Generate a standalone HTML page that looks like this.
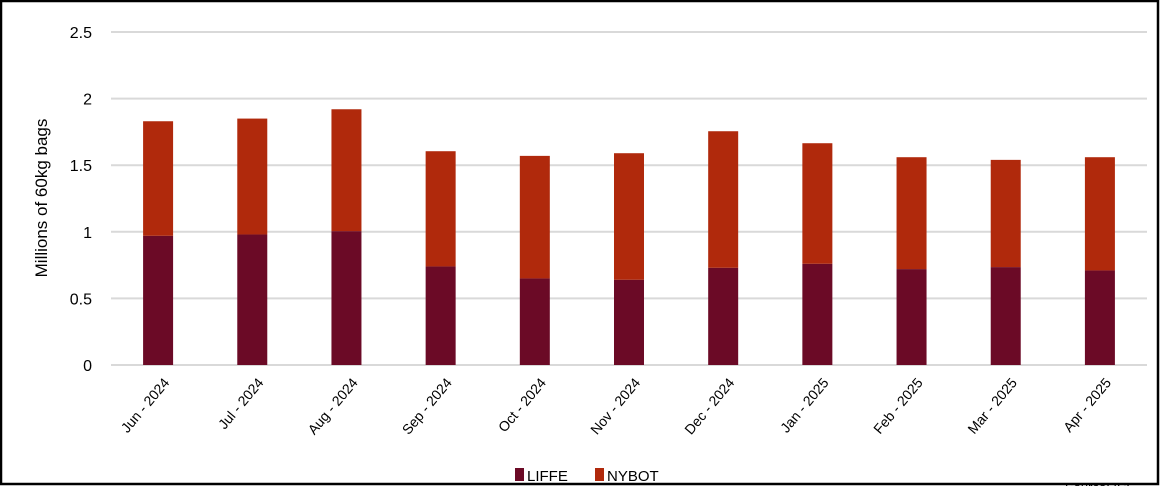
<!DOCTYPE html>
<html><head><meta charset="utf-8"><style>
html,body{margin:0;padding:0;background:#fff;}
svg{display:block;font-family:"Liberation Sans",sans-serif;}
</style></head><body>
<svg id="chart" width="1162" height="486" viewBox="0 0 1162 486">
<rect x="1" y="1" width="1157" height="483" fill="#fff" stroke="#000" stroke-width="2.5"/>
<g id="grid"></g>
<g id="bars"></g>
<g id="xlabels"></g>
<text transform="translate(47,198) rotate(-90)" text-anchor="middle" font-size="17" fill="#000">Millions of 60kg bags</text>
<g>
<rect x="515" y="468" width="9" height="13" fill="#6b0a26"/>
<text x="527" y="481" font-size="15">LIFFE</text>
<rect x="595" y="468" width="9" height="13" fill="#b0290c"/>
<text x="607" y="481" font-size="15">NYBOT</text>
</g>
<text x="1065" y="492" font-size="13" fill="#000">Source: ICE</text>
</svg>
<script>
const categories=["Jun - 2024","Jul - 2024","Aug - 2024","Sep - 2024","Oct - 2024","Nov - 2024","Dec - 2024","Jan - 2025","Feb - 2025","Mar - 2025","Apr - 2025"];
const liffe=[0.97,0.98,1.005,0.74,0.65,0.64,0.73,0.76,0.72,0.735,0.71];
const nybot=[0.86,0.87,0.915,0.865,0.92,0.95,1.025,0.905,0.84,0.805,0.85];
const yTicks=[0,0.5,1,1.5,2,2.5];
const tickLabels=["0","0.5","1","1.5","2","2.5"];
const NS="http://www.w3.org/2000/svg";
const x0=111,x1=1147,yBase=365,yTop=32,yMax=2.5;
const band=(x1-x0)/categories.length;
function yScale(v){return yBase-(v/yMax)*(yBase-yTop);}
function xCenter(i){return x0+band*(i+0.5);}
function mk(tag,attrs,parent){const e=document.createElementNS(NS,tag);for(const k in attrs)e.setAttribute(k,attrs[k]);parent.appendChild(e);return e;}
const grid=document.getElementById('grid');
yTicks.forEach((t,i)=>{
  const y=yScale(t);
  const l=mk('line',{x1:x0,x2:x1,y1:y,y2:y,stroke:'#d9d9d9','stroke-width':2},grid);
  
  
  const tx=mk('text',{x:92,y:y+6,'text-anchor':'end','font-size':16,fill:'#000'},grid);
  
  
  tx.textContent=tickLabels[i];
});
const bars=document.getElementById('bars'),xl=document.getElementById('xlabels');
const bw=30;
categories.forEach((c,i)=>{
  const cx=xCenter(i);
  const yl=yScale(liffe[i]);
  const yt=yScale(liffe[i]+nybot[i]);
  const r1=mk('rect',{x:cx-bw/2,y:yl,width:bw,height:yBase-yl,fill:'#6b0a26'},bars);
  
  
  const r2=mk('rect',{x:cx-bw/2,y:yt,width:bw,height:yl-yt,fill:'#b0290c'},bars);
  
  
  const t=mk('text',{transform:`translate(${cx+12},${yBase+18}) rotate(-50)`,'text-anchor':'end','font-size':14,fill:'#000'},xl);
  
  
  t.textContent=c;
});
</script>
</body></html>
